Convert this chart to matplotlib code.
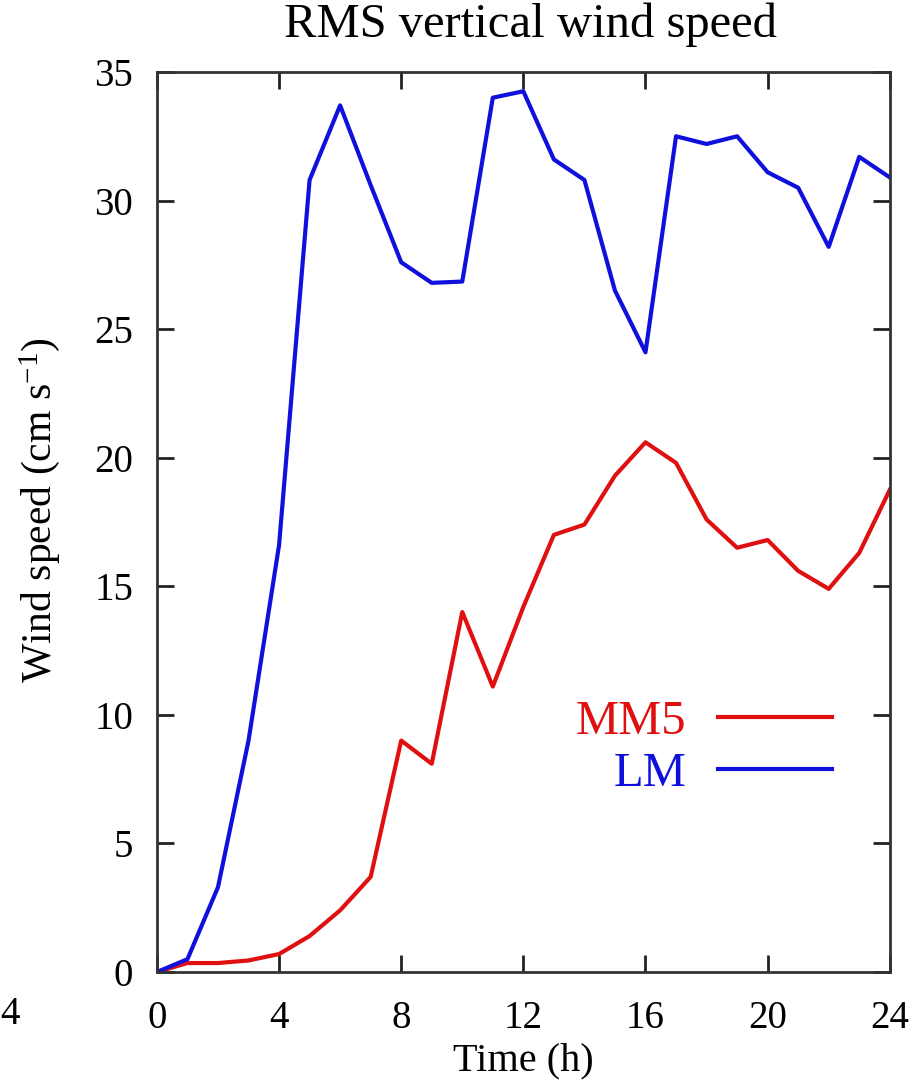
import matplotlib
matplotlib.use("Agg")
import matplotlib.pyplot as plt

plt.rcParams['font.family'] = ['Liberation Serif', 'DejaVu Serif']
plt.rcParams['mathtext.fontset'] = 'custom'
plt.rcParams['mathtext.rm'] = 'Liberation Serif'
plt.rcParams['mathtext.it'] = 'Liberation Serif:italic'

# hourly values
hours = list(range(25))
lm = [0.0, 0.5, 3.3, 9.0, 16.6, 30.8, 33.7, 30.6, 27.6, 26.8, 26.85, 34.0, 34.25,
      31.6, 30.8, 26.5, 24.1, 32.5, 32.2, 32.5, 31.1, 30.5, 28.2, 31.7, 30.9]
mm5 = [0.0, 0.35, 0.35, 0.45, 0.7, 1.4, 2.4, 3.7, 9.0, 8.1, 14.0, 11.1, 14.2,
       17.0, 17.4, 19.3, 20.6, 19.8, 17.6, 16.5, 16.8, 15.6, 14.9, 16.3, 18.75]

xticks = [0, 4, 8, 12, 16, 20, 24]
yticks = [0, 5, 10, 15, 20, 25, 30, 35]

fig = plt.figure(figsize=(9.23, 10.89), dpi=100)
ax = fig.add_axes([0.170, 0.1074, 0.794, 0.8265])

ax.plot(hours, mm5, color='#e01010', lw=3.0, label='MM5')
ax.plot(hours, lm, color='#1010dd', lw=3.0, label='LM')

ax.set_xlim(0, 24)
ax.set_ylim(0, 35)
ax.set_xticks(xticks)
ax.set_yticks(yticks)
ax.tick_params(direction='in', length=12, width=2.0, top=True, right=True,
               labelsize=28, colors='#222222')
ax.tick_params(axis='x', pad=20)
ax.tick_params(axis='y', pad=17)
ax.tick_params(labelcolor='black')
for s in ax.spines.values():
    s.set_linewidth(2.0)
    s.set_color('#333333')

fig.text(0.575, 0.966, 'RMS vertical wind speed', fontsize=35,
         ha='center', va='baseline')
ax.set_xlabel('Time (h)', fontsize=29)
ax.set_ylabel('Wind speed (cm s$^{-1}$)', fontsize=30)
ax.xaxis.set_label_coords(0.5, -0.078)
ax.yaxis.set_label_coords(-0.130, 0.513)

leg = ax.legend(loc='center right', bbox_to_anchor=(0.921, 0.249), frameon=False,
                markerfirst=False, fontsize=35, handlelength=2.35, handletextpad=0.64,
                labelspacing=0.15, borderpad=0, borderaxespad=0)
for txt, line in zip(leg.get_texts(), leg.get_lines()):
    txt.set_color(line.get_color())

# leftover of the neighbouring panel's tick label at the left edge
fig.text(0.0, 0.068, '4', fontsize=28, ha='left', va='center')

fig.savefig('out.png', dpi=100)
